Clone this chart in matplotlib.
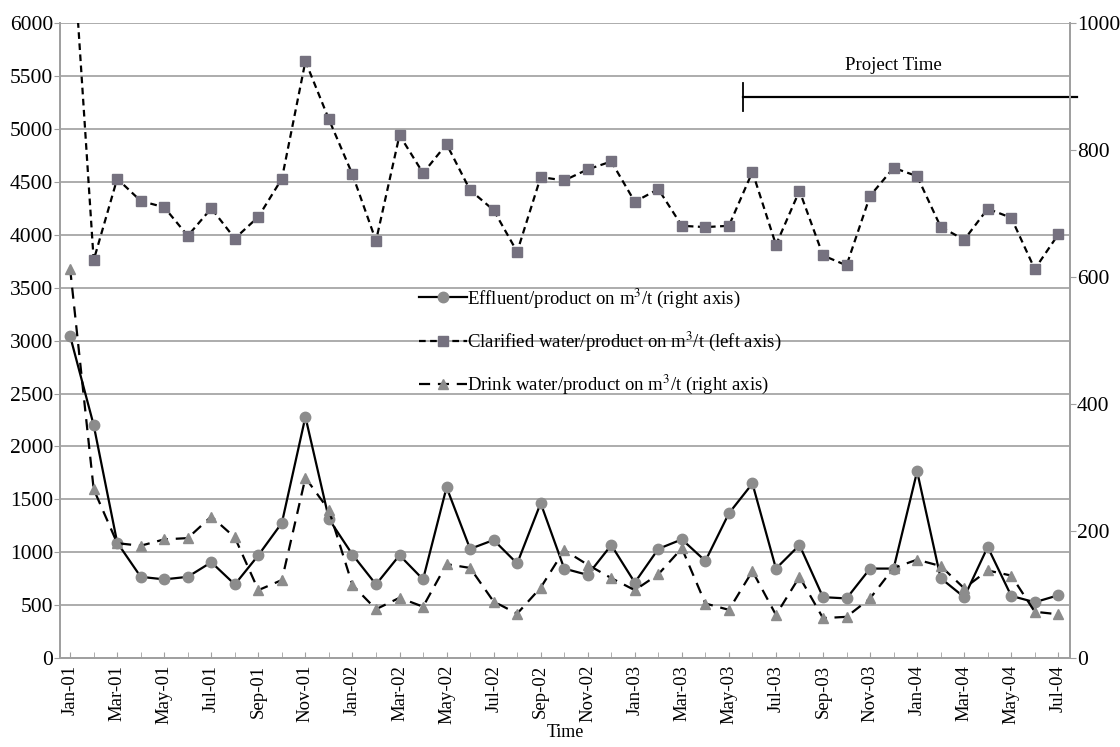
import matplotlib
matplotlib.use('Agg')
import matplotlib.pyplot as plt
import numpy as np

plt.rcParams['font.family'] = ['Liberation Serif', 'DejaVu Serif']
plt.rcParams['mathtext.fontset'] = 'stix'

months = ['Jan', 'Feb', 'Mar', 'Apr', 'May', 'Jun', 'Jul', 'Aug', 'Sep', 'Oct', 'Nov', 'Dec']
dates = ['%s-%02d' % (m, y) for y in range(1, 5) for m in months][:43]

# left axis
clarified = [7150, 3760, 4530, 4320, 4260, 3990, 4250, 3965, 4170, 4530, 5640, 5090,
             4570, 3943, 4942, 4583, 4857, 4422, 4233, 3839, 4545, 4514, 4618, 4693,
             4312, 4432, 4085, 4073, 4085, 4595, 3905, 4416, 3805, 3711, 4368, 4633,
             4554, 4076, 3953, 4246, 4161, 3676, 4004]
# right axis
effluent = [507, 367, 182, 128, 124, 128, 151, 116, 162, 213, 380, 219,
            163, 116, 162, 124, 269, 172, 186, 149, 244, 141, 131, 178,
            119, 172, 187, 153, 228, 275, 141, 178, 96, 94, 141, 141,
            294, 126, 96, 175, 98, 88, 99]
drink = [613, 266, 181, 177, 187, 189, 223, 190, 107, 123, 284, 233,
         115, 77, 95, 81, 148, 142, 89, 70, 111, 170, 147, 126,
         107, 132, 173, 86, 76, 137, 68, 128, 63, 65, 94, 142,
         155, 145, 110, 138, 130, 73, 69]

# project period marker (month index, left axis units)
project_start = 28.6
project_end = 42.8
project_level = 5300

x = np.arange(len(dates))

fig = plt.figure(figsize=(11.2, 7.47), dpi=100)
ax = fig.add_axes([0.0536, 0.119, 0.9018, 0.850])
ax2 = ax.twinx()

ax.set_ylim(0, 6000)
ax2.set_ylim(0, 1000)
ax.set_xlim(-0.43, 42.5)

ax.set_yticks(np.arange(0, 6001, 500))
ax2.set_yticks(np.arange(0, 1001, 200))
ax.grid(axis='y', color='#a6a6a6', linewidth=1.3)
ax.set_axisbelow(True)

ax.set_xticks(x, minor=True)
ax.set_xticks(x[::2])
ax.set_xticklabels(dates[::2], rotation=90)
ax.tick_params(axis='x', which='both', direction='in', length=4, color='#a0a0a0')
ax.tick_params(axis='y', labelsize=15.5, length=4, color='#a0a0a0', pad=1)
ax2.tick_params(axis='y', labelsize=15.5, length=4, color='#a0a0a0', pad=1)
ax.tick_params(axis='x', labelsize=13.5, pad=5)
for a in (ax, ax2):
    for s in a.spines.values():
        s.set_color('#a0a0a0')
        s.set_linewidth(1.3)
    a.spines['top'].set_visible(False)

ax.set_xlabel('Time', fontsize=13, labelpad=0)

l2, = ax.plot(x, clarified, color='black', linestyle=(0, (3, 2)), linewidth=1.6,
              marker='s', markersize=7.5, markerfacecolor='#75717f', markeredgecolor='#75717f',
              label='Clarified water/product on m$^3$/t (left axis)')
l1, = ax2.plot(x, effluent, color='black', linestyle='-', linewidth=1.6,
               marker='o', markersize=7.5, markerfacecolor='#8c8c8c', markeredgecolor='#8c8c8c',
               label='Effluent/product on m$^3$/t (right axis)')
l3, = ax2.plot(x, drink, color='black', linestyle=(0, (5, 3.5)), linewidth=1.6,
               marker='^', markersize=7.5, markerfacecolor='#8c8c8c', markeredgecolor='#8c8c8c',
               label='Drink water/product on m$^3$/t (right axis)')

# project time marker
ax.plot([project_start, project_end], [project_level, project_level], color='black',
        linewidth=1.6, clip_on=False)
ax.plot([project_start, project_start], [project_level - 130, project_level + 130],
        color='black', linewidth=1.3)
ax.text(35.0, 5520, 'Project Time', fontsize=13.5, ha='center', va='bottom')

ax2.legend([l1, l2, l3], [l1.get_label(), l2.get_label(), l3.get_label()],
           loc='upper left', bbox_to_anchor=(0.355, 0.585), frameon=False,
           fontsize=13.5, labelspacing=1.05, handlelength=2.6, handletextpad=0.0,
           borderpad=0, borderaxespad=0)

fig.savefig('out.png', dpi=100)
